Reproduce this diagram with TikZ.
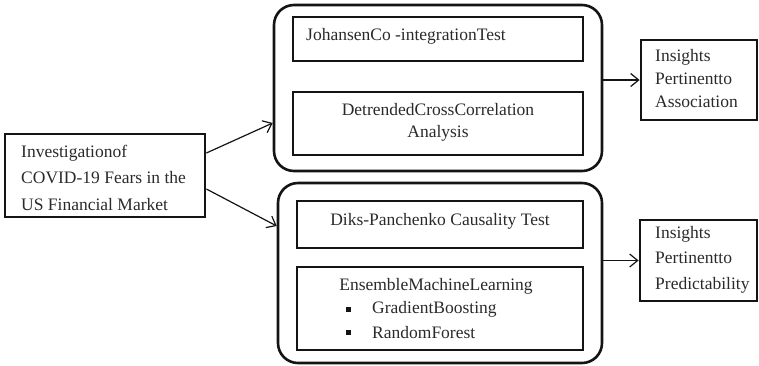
\documentclass[tikz,border=0pt]{standalone}
\usepackage{fontspec}
\setmainfont{Liberation Serif}
\usetikzlibrary{arrows.meta}
\definecolor{ink}{HTML}{141414}
\definecolor{txt}{HTML}{2A2A2A}
\begin{document}
\begin{tikzpicture}[x=1pt,y=-1pt,
  sqbox/.style={draw=ink, line width=2.8pt, inner sep=0pt},
  panel/.style={draw=ink, line width=2.6pt, rounded corners=20pt, inner sep=0pt},
  lbl/.style={font=\fontsize{17.5}{21}\selectfont, text=txt, inner sep=0pt},
  bullet/.style={fill=ink, inner sep=0pt, minimum size=5pt},
  link/.style={draw=ink, line width=1.2pt,
    -{Straight Barb[length=8pt,width=13pt,line width=1.2pt]}}]
\useasboundingbox (0,0) rectangle (759,365);

% source box
\node[sqbox, minimum width=200pt, minimum height=83pt] (inv) at (105,175.5) {};
\node[lbl, anchor=base west] (inv1) at (21,157) {Investigationof};
\node[lbl, anchor=base west] (inv2) at (21,183) {COVID-19 Fears in the};
\node[lbl, anchor=base west] (inv3) at (21,210) {US Financial Market};

% association panel
\node[panel, minimum width=328pt, minimum height=166pt] (top) at (438,88) {};
\node[sqbox, minimum width=290pt, minimum height=44pt] (joh) at (438,39) {};
\node[lbl, anchor=base west] (joht) at (306,40) {JohansenCo -integrationTest};
\node[sqbox, minimum width=290pt, minimum height=63pt] (dcca) at (438,123.5) {};
\node[lbl, anchor=base] (dcca1) at (438,115) {DetrendedCrossCorrelation};
\node[lbl, anchor=base] (dcca2) at (438,137) {Analysis};

% predictability panel
\node[panel, minimum width=324pt, minimum height=180pt] (bot) at (440,273) {};
\node[sqbox, minimum width=286pt, minimum height=47pt] (diks) at (440,224.5) {};
\node[lbl, anchor=base] (dikst) at (440,225) {Diks-Panchenko Causality Test};
\node[sqbox, minimum width=286pt, minimum height=83pt] (ens) at (440,308.5) {};
\node[lbl, anchor=base] (ens1) at (436,290) {EnsembleMachineLearning};
\node[bullet] (b1) at (348,309) {};
\node[lbl, anchor=base west] (ens2) at (372,313) {GradientBoosting};
\node[bullet] (b2) at (348,332) {};
\node[lbl, anchor=base west] (ens3) at (372,338) {RandomForest};

% outcome boxes
\node[sqbox, minimum width=116pt, minimum height=80pt] (assoc) at (699,80) {};
\node[lbl, anchor=base west] (as1) at (655,61) {Insights};
\node[lbl, anchor=base west] (as2) at (655,84) {Pertinentto};
\node[lbl, anchor=base west] (as3) at (655,107) {Association};
\node[sqbox, minimum width=117pt, minimum height=81pt] (pred) at (698.5,260.5) {};
\node[lbl, anchor=base west] (pr1) at (655,238) {Insights};
\node[lbl, anchor=base west] (pr2) at (655,263) {Pertinentto};
\node[lbl, anchor=base west] (pr3) at (655,289) {Predictability};

% connectors
\draw[link] ([yshift=22.5pt]inv.east) -- ([yshift=-35pt]top.west);
\draw[link] ([yshift=-13.5pt]inv.east) -- ([yshift=47pt]bot.west);
\draw[link] (top.east |- assoc.west) -- (assoc.west);
\draw[link] (bot.east |- pred.west) -- (pred.west);
\end{tikzpicture}
\end{document}
